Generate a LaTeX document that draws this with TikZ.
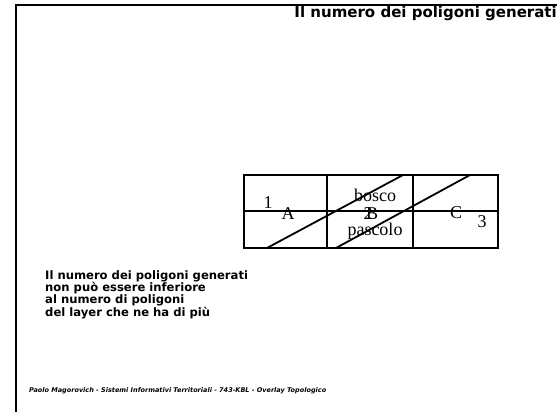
\documentclass[tikz,border=0pt]{standalone}
\usepackage{fontspec}
\setmainfont{Liberation Serif}
\newfontfamily\comicfont{DejaVu Sans}
\usetikzlibrary{positioning}

\begin{document}
\begin{tikzpicture}[x=1pt, y=-1pt, cell/.style={font=\fontsize{18}{18}\selectfont, inner sep=0pt}, note/.style={font=\comicfont\bfseries\fontsize{11.6}{11.6}\selectfont, align=left, inner sep=0pt}, grid/.style={line width=2.5pt}, cut/.style={line width=1.8pt}]
            \useasboundingbox (0,0) rectangle (557,412);
            \draw[line width=2pt] (16,412) -- (16,5) -- (557,5);
            \node[note, anchor=east, font=\comicfont\bfseries\fontsize{15}{15}\selectfont] (title) at (557,13) {Il numero dei poligoni generati};
            % table of the two layers
            \coordinate (nw) at (244,175);
            \coordinate (se) at (498,248);
            \draw[grid] (nw) rectangle (se);
            \draw[grid] (244,211) -- (498,211);
            \draw[grid] (327,175) -- (327,248) (413,175) -- (413,248);
            \draw[cut] (267,248) -- (403,175);
            \draw[cut] (336,248) -- (470,175);
            \node[cell] (one) at (268,203) {1};
            \node[cell] (a) at (288,214) {A};
            \node[cell] (bosco) at (375,195) {bosco};
            \node[cell] (two) at (368,214) {2};
            \node[cell] (b) at (372,214) {B};
            \node[cell] (pascolo) at (375,231) {pascolo};
            \node[cell] (c) at (456,213) {C};
            \node[cell] (three) at (482,222) {3};
            \node[note, anchor=north west] (rule) at (45,270) {Il numero dei poligoni generati\\non pu\`o essere inferiore\\al numero di poligoni\\del layer che ne ha di pi\`u};
            \node[anchor=west, inner sep=0pt, font=\comicfont\bfseries\itshape\fontsize{6.5}{7}\selectfont] (footer) at (29,391) {Paolo Magorovich - Sistemi Informativi Territoriali - 743-KBL - Overlay Topologico};
        \end{tikzpicture}
\end{document}
